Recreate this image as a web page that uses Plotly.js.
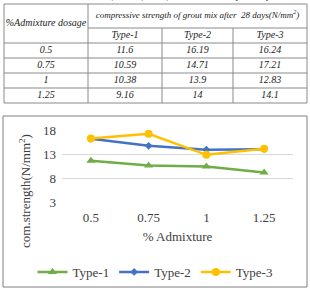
<!DOCTYPE html>
<html>
<head>
<meta charset="utf-8">
<script src="https://cdn.plot.ly/plotly-3.0.1.min.js"></script>
<style>html,body{margin:0;padding:0;background:#fff}#chart{width:310px;height:289px}</style>
</head>
<body>
<div id="chart"></div>
<script>
// ---- data ----
var dosages = ["0.5", "0.75", "1", "1.25"];
var seriesNames = ["Type-1", "Type-2", "Type-3"];
var type1 = [11.6, 10.59, 10.38, 9.16];
var type2 = [16.19, 14.71, 13.9, 14];
var type3 = [16.24, 17.21, 12.83, 14.1];
var captionText = "W/B =0.45 with SNF 0.5%, 0.75%, 1.0%, 1.25% for 28 Days Compressive Strength";
var headerDosage = "%Admixture dosage";
var headerStrength = "compressive strength of grout mix after  28 days(N/mm<sup>2</sup>)";
var yTicks = [3, 8, 13, 18];

// ---- layout geometry (pixels of the 310x289 figure) ----
var W = 310, H = 289, TBL_H = 110;
var colEdges = [4, 88, 162, 233, 307];
var rowEdges = [4, 28, 43, 58, 73, 88, 103];
function px(x) { return x / W; }
function py(y) { return 1 - y / H; }
function mid(a, i) { return (a[i] + a[i + 1]) / 2; }

var serif = "Liberation Serif";
var lineCol = "#8a8a8a";
var txtCol = "#222";

var traces = [];

// ---- table text (drawn on a hidden x2/y2 scale) ----
var tx = [], ty = [], tt = [];
tx.push((colEdges[0] + colEdges[1]) / 2); ty.push((rowEdges[0] + rowEdges[2]) / 2); tt.push(headerDosage);
for (var c = 0; c < 3; c++) { tx.push(mid(colEdges, c + 1)); ty.push(mid(rowEdges, 1)); tt.push(seriesNames[c]); }
var cols = [dosages, type1.map(String), type2.map(String), type3.map(String)];
for (var r = 0; r < dosages.length; r++) {
  for (var k = 0; k < 4; k++) { tx.push(mid(colEdges, k)); ty.push(mid(rowEdges, r + 2)); tt.push(cols[k][r]); }
}
traces.push({
  type: "scatter", mode: "text", x: tx, y: ty, text: tt, xaxis: "x2", yaxis: "y2",
  textposition: "middle center", hoverinfo: "skip", showlegend: false, cliponaxis: false,
  textfont: {family: serif, size: 10, color: txtCol, style: "italic"}
});
traces.push({
  type: "scatter", mode: "text",
  x: [(colEdges[1] + colEdges[4]) / 2], y: [mid(rowEdges, 0)], text: [headerStrength],
  xaxis: "x2", yaxis: "y2", textposition: "middle center", hoverinfo: "skip", showlegend: false, cliponaxis: false,
  textfont: {family: serif, size: 9, color: txtCol, style: "italic"}
});

// table rules
var shapes = [];
function hline(y, x0, x1) { shapes.push({type: "line", xref: "x2", yref: "y2", x0: x0, x1: x1, y0: y, y1: y, line: {color: lineCol, width: 1}}); }
function vline(x, y0, y1) { shapes.push({type: "line", xref: "x2", yref: "y2", x0: x, x1: x, y0: y0, y1: y1, line: {color: lineCol, width: 1}}); }
var L = colEdges[0], R = colEdges[4], T = rowEdges[0], B = rowEdges[rowEdges.length - 1];
hline(T, L, R);
hline(rowEdges[1], colEdges[1], R);
for (var j = 2; j < rowEdges.length; j++) hline(rowEdges[j], L, R);
vline(L, T, B); vline(colEdges[1], T, B); vline(R, T, B);
vline(colEdges[2], rowEdges[1], B); vline(colEdges[3], rowEdges[1], B);

// ---- chart ----
var colors = ["#70AD47", "#4472C4", "#FFC000"];
var symbols = ["triangle-up", "diamond", "circle"];
var sizes = [8, 6, 8];
var vals = [type1, type2, type3];
for (var i = 0; i < 3; i++) {
  traces.push({
    type: "scatter", mode: "lines+markers",
    x: dosages, y: vals[i], name: seriesNames[i],
    xaxis: "x", yaxis: "y",
    line: {color: colors[i], width: 2.5},
    marker: {color: colors[i], symbol: symbols[i], size: sizes[i]}
  });
}

shapes.push({
  type: "rect", xref: "paper", yref: "paper",
  x0: px(3), x1: px(307), y0: py(287), y1: py(116),
  line: {color: "#7f7f7f", width: 1}, fillcolor: "rgba(0,0,0,0)"
});

var axFont = {family: serif, size: 13, color: "#404040"};
var layout = {
  width: W, height: H,
  margin: {l: 0, r: 0, t: 0, b: 0},
  font: {family: serif, color: "#404040"},
  paper_bgcolor: "#fff", plot_bgcolor: "rgba(0,0,0,0)",
  showlegend: true,
  xaxis: {
    type: "category", domain: [px(62), px(293)], anchor: "y",
    range: [-0.5, 3.5], showgrid: false, zeroline: false, showline: false,
    ticks: "", ticklabelstandoff: 6, tickfont: axFont,
    title: {text: "% Admixture", font: axFont, standoff: 7}
  },
  yaxis: {
    domain: [py(202), py(130)], anchor: "x",
    range: [3, 18], tickvals: yTicks, showgrid: true, gridcolor: "#d9d9d9", gridwidth: 1,
    zeroline: false, showline: false, ticks: "", ticklabelstandoff: 5, tickfont: axFont
  },
  xaxis2: {domain: [0, 1], range: [0, W], anchor: "y2", visible: false, fixedrange: true},
  yaxis2: {domain: [py(TBL_H), 1], range: [TBL_H, 0], anchor: "x2", visible: false, fixedrange: true},
  legend: {
    orientation: "h", x: 0.5, xanchor: "center", y: py(272), yanchor: "middle",
    font: {family: serif, size: 13, color: "#404040"}, itemwidth: 30,
    bgcolor: "rgba(0,0,0,0)"
  },
  shapes: shapes,
  annotations: [{
    text: captionText, xref: "paper", yref: "paper",
    x: px(4), y: py(3), xanchor: "left", yanchor: "bottom", showarrow: false,
    font: {family: serif, size: 9.7, color: "#222"}
  }, {
    text: "com.strength(N/mm<sup>2</sup>)", xref: "paper", yref: "paper",
    x: px(25), y: py(191), xanchor: "center", yanchor: "middle", textangle: -90, showarrow: false,
    font: {family: serif, size: 13, color: "#404040"}
  }]
};

Plotly.newPlot("chart", traces, layout, {displayModeBar: false, staticPlot: true});
</script>
</body>
</html>
